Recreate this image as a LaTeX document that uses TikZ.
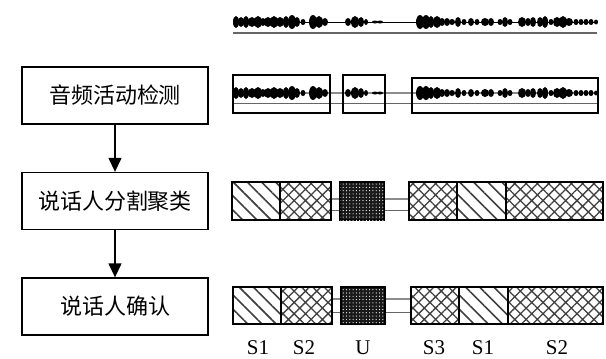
\documentclass[tikz,border=0pt]{standalone}
\usepackage{fontspec}
\setmainfont{Liberation Serif}
\newfontfamily\cjk{Noto Sans CJK SC}
\usetikzlibrary{patterns.meta,arrows.meta}
\tikzset{
  stagebox/.style={draw,line width=1.3pt,minimum width=186pt,minimum height=57pt,inner sep=0pt,font=\cjk\fontsize{22}{22}\selectfont},
  flowarrow/.style={line width=1.3pt,-{Triangle[length=14pt,width=13pt]}},
  segframe/.style={draw,line width=1.3pt},
  spkA/.style={segframe,pattern={Lines[angle=-45,distance=10pt,line width=1.6pt]},pattern color=black!75},
  spkB/.style={segframe,pattern={Hatch[angle=45,distance=8pt,line width=1.3pt]},pattern color=black!75},
  spkU/.style={segframe,fill=black!90,postaction={pattern={Dots[radius=0.6pt,distance=3.3pt]},pattern color=white}},
  wavebox/.style={draw,line width=1.3pt},
  lab/.style={font=\fontsize{21}{21}\selectfont,inner sep=0pt,text depth=0pt,anchor=base},
  gapline/.style={draw=black!45,line width=1.8pt},
  thinline/.style={draw=black!60,line width=0.9pt}
}
\newcommand\mywave[1]{%
  \foreach \bx/\bw/\bh in {236/3/6,241/3/5,246/3/6,252/4/5,258/4/6,263/3/4,268/4/5,274/4/6,280/4/5,286/3/6,292/4/7,297/3/5,303/2.5/3,313/4/7,319/4/6,325/3/4,348/3/4,355/4/6,361/3/5,366/2/3,375/3/1.5,380/3/1.5,420/4/7,426/4/7,431/3/6,437/4/6,442/3/4,447/3/4,452/3/3,458/3/5,464/2.5/3,471/3/4,477/2.5/3,485/4/4,491/3/4,500/2.5/3,505/3/5,510/2.5/3,522/4/5,528/3/4,533/3/5,540/3/5,545/3/6,551/2.5/3,557/4/5,563/4/6,569/4/4,576/2.5/3,581/2.5/3,586/2.5/3,591/2.5/3,596/2/2.5}
    {\fill (\bx,#1) ellipse ({\bw*1pt} and {\bh*1pt});}%
}
\begin{document}
\begin{tikzpicture}[x=1pt,y=-1pt]
\useasboundingbox (0,0) rectangle (606,359);
% left flow
\node[stagebox] (vad) at (115,95.5) {音频活动检测};
\node[stagebox] (seg) at (115,201) {说话人分割聚类};
\node[stagebox] (ver) at (115,306.5) {说话人确认};
\draw[flowarrow] (vad) -- (seg);
\draw[flowarrow] (seg) -- (ver);
% top waveform
\draw[line width=1pt] (233,22) -- (597,22);
\mywave{22}
\draw[draw=black!60,line width=1.3pt] (233,33) -- (597,33);
% second waveform with detected activity boxes
\draw[gapline] (233,93) -- (597,93);
\draw[thinline] (233,103) -- (597,103);
\mywave{93}
\node[wavebox,minimum width=97pt,minimum height=38pt,inner sep=0pt] (act1) at (281.5,94) {};
\node[wavebox,minimum width=42pt,minimum height=38pt,inner sep=0pt] (act2) at (364,94) {};
\node[wavebox,minimum width=186pt,minimum height=35pt,inner sep=0pt] (act3) at (505,95.5) {};
% third row: segmentation and clustering
\draw[gapline] (331,199) -- (409,199);
\draw[thinline] (331,210) -- (409,210);
\path[spkA] (232,182) rectangle (280,220);
\path[spkB] (280,182) rectangle (331,220);
\path[spkU] (340,182) rectangle (384,220);
\path[spkB] (409,182) rectangle (457,220);
\path[spkA] (457,182) rectangle (506,220);
\path[spkB] (506,182) rectangle (603,220);
% fourth row: speaker verification
\draw[gapline] (332,299) -- (411,299);
\draw[thinline] (332,312) -- (411,312);
\path[spkA] (233,287) rectangle (281,324);
\path[spkB] (281,287) rectangle (332,324);
\path[spkU] (341,287) rectangle (385,324);
\path[spkB] (411,287) rectangle (459,324);
\path[spkA] (459,287) rectangle (508,324);
\path[spkB] (508,287) rectangle (603,324);
% labels
\node[lab] (l1) at (258,354) {S1};
\node[lab] (l2) at (304,354) {S2};
\node[lab] (l3) at (363,354) {U};
\node[lab] (l4) at (434,354) {S3};
\node[lab] (l5) at (483,354) {S1};
\node[lab] (l6) at (557,354) {S2};
\end{tikzpicture}
\end{document}
